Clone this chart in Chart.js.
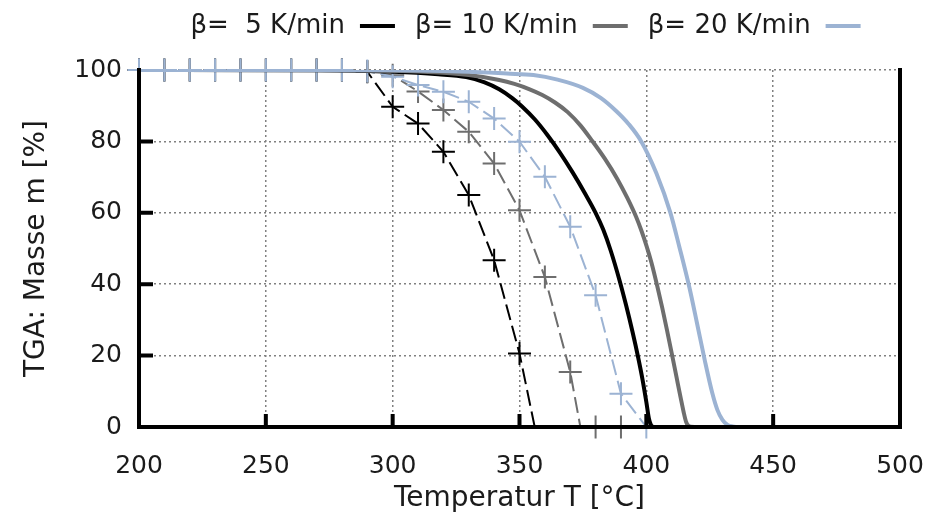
<!DOCTYPE html>
<html>
<head>
<meta charset="utf-8">
<script src="https://cdn.jsdelivr.net/npm/chart.js@4.4.1/dist/chart.umd.min.js"></script>
<style>
html, body { margin: 0; padding: 0; background: #fff; }
#wrap { width: 932px; height: 520px; }
</style>
</head>
<body>
<div id="wrap"><canvas id="chart"></canvas></div>
<script>
// Heizraten und Farben
const rates = ["β=  5 K/min", "β= 10 K/min", "β= 20 K/min"];
const colors = ["#000000", "#6e6e6e", "#9cb3d3"];

// Achsen
const xTicks = [200, 250, 300, 350, 400, 450, 500];
const yTicks = [0, 20, 40, 60, 80, 100];

// Simulation (durchgezogene Linien)
const simT5  = [200, 270, 300, 318, 329, 336, 342, 347, 351, 356, 361, 366, 371, 376, 380, 383, 386, 389.5, 392, 394.5, 396.8, 398.5, 400, 401, 401.8, 403, 500];
const simM5  = [100, 99.9, 99.5, 98.8, 98, 96.6, 94.6, 92.2, 89.8, 86.2, 81.8, 76.8, 71.25, 65.2, 60, 55.3, 49.3, 40.9, 34.15, 26.8, 19.4, 13.3, 7, 2.4, 0.6, 0, 0];
const simT10 = [200, 280, 310, 330, 342, 348, 354, 359, 364, 369, 374, 378.5, 383.5, 388.5, 392.5, 396, 398, 400, 402, 404.3, 406.3, 408.3, 410.2, 412, 413.5, 414.7, 415.6, 416.5, 417.5, 419, 500];
const simM10 = [100, 99.95, 99.6, 98.6, 97.2, 96.1, 94.6, 93, 90.9, 88.2, 84.5, 80.3, 75.3, 69.55, 64.15, 58.8, 55.1, 50.9, 46.1, 39.5, 33.3, 26.6, 20, 13.6, 8.3, 4.2, 1.6, 0.4, 0.05, 0, 0];
const simT20 = [200, 300, 330, 345, 355.5, 365, 375, 382, 388, 393, 398, 404, 409.5, 413, 417, 420, 423, 426, 428, 430, 432, 434, 437, 500];
const simM20 = [100, 99.9, 99.5, 99, 98.6, 97.3, 95, 92.2, 88.6, 84.9, 80, 71, 60, 50.5, 39, 29, 18.8, 9.5, 4.8, 2, 0.6, 0.15, 0, 0];

// Messung (gestrichelt, Kreuze alle 10 °C)
const expT5  = [200, 210, 220, 230, 240, 250, 260, 270, 280, 290, 300, 310, 320, 330, 340, 350, 356];
const expM5  = [100, 100, 100, 100, 100, 100, 100, 100, 100, 99.5, 89.7, 85, 77.1, 65, 46.7, 20.6, 0];
const expT10 = [200, 210, 220, 230, 240, 250, 260, 270, 280, 290, 300, 310, 320, 330, 340, 350, 360, 370, 374, 380, 390];
const expM10 = [100, 100, 100, 100, 100, 100, 100, 100, 100, 99.6, 98.5, 94, 88.8, 82.7, 73.8, 60.7, 42, 15.4, 0, 0, 0];
const expT20 = [200, 210, 220, 230, 240, 250, 260, 270, 280, 290, 300, 310, 320, 330, 340, 350, 360, 370, 380, 390, 400];
const expM20 = [100, 100, 100, 100, 100, 100, 100, 100, 100, 99.7, 98.1, 95.8, 93.9, 91.1, 86.4, 79.9, 70.1, 56.1, 36.9, 9.3, 0];

const pts = (xs, ys) => xs.map((x, i) => ({ x: x, y: ys[i] }));

Chart.defaults.font.family = "'DejaVu Sans', sans-serif";
Chart.defaults.color = "#1b1b1b";

function simSet(i, xs, ys, order) {
    return {
        label: rates[i],
        data: pts(xs, ys),
        showLine: true,
        borderColor: colors[i],
        borderWidth: 4,
        pointRadius: 0,
        cubicInterpolationMode: "monotone",
        order: order,
    };
}

function expSet(i, xs, ys, order) {
    return {
        label: rates[i] + " Messung",
        data: pts(xs, ys),
        showLine: true,
        borderColor: colors[i],
        borderWidth: 2,
        borderDash: [16, 6],
        tension: 0,
        pointStyle: "cross",
        pointRadius: (c) => (c.raw && c.raw.x % 10 === 0 ? 11.5 : 0),
        pointBorderWidth: 2,
        pointBorderColor: colors[i],
        clip: false,
        order: order,
    };
}

// Rahmen mit innen liegenden Teilstrichen
const frame = {
    id: "frame",
    afterDatasetsDraw(chart) {
        const { ctx, chartArea: a, scales: { x, y } } = chart;
        ctx.save();
        ctx.strokeStyle = "#000";
        ctx.lineWidth = 4;
        ctx.beginPath();
        ctx.moveTo(a.left, a.top - 2);
        ctx.lineTo(a.left, a.bottom);
        ctx.lineTo(a.right, a.bottom);
        ctx.lineTo(a.right, a.top - 2);
        ctx.stroke();
        ctx.beginPath();
        yTicks.slice(1, -1).forEach((v) => {
            const p = y.getPixelForValue(v);
            ctx.moveTo(a.left, p);
            ctx.lineTo(a.left + 14, p);
        });
        xTicks.slice(1, -1).forEach((v) => {
            const p = x.getPixelForValue(v);
            ctx.moveTo(p, a.bottom);
            ctx.lineTo(p, a.bottom - 13);
        });
        ctx.stroke();
        ctx.restore();
    },
};

// Legende oben: Text, dann Linienmuster
const legendTop = {
    id: "legendTop",
    afterDraw(chart) {
        const { ctx, chartArea: a } = chart;
        ctx.save();
        ctx.font = "26px 'DejaVu Sans'";
        ctx.textBaseline = "middle";
        ctx.textAlign = "left";
        const gap = 15, sample = 35, between = 20;
        const widths = rates.map((r) => ctx.measureText(r).width);
        const total = widths.reduce((s, w) => s + w + gap + sample, 0) + between * (rates.length - 1);
        let xPos = (a.left + a.right) / 2 - total / 2 + 6;
        const yPos = 26;
        rates.forEach((r, i) => {
            ctx.fillStyle = "#1b1b1b";
            ctx.fillText(r, xPos, yPos);
            xPos += widths[i] + gap;
            ctx.strokeStyle = colors[i];
            ctx.lineWidth = 4;
            ctx.beginPath();
            ctx.moveTo(xPos, yPos);
            ctx.lineTo(xPos + sample, yPos);
            ctx.stroke();
            xPos += sample + between;
        });
        ctx.restore();
    },
};

const ctx = document.getElementById("chart");

const config = {
    type: "scatter",
    data: {
        datasets: [
            simSet(2, simT20, simM20, 0),
            simSet(1, simT10, simM10, 1),
            simSet(0, simT5, simM5, 2),
            expSet(2, expT20, expM20, 3),
            expSet(1, expT10, expM10, 4),
            expSet(0, expT5, expM5, 5),
        ],
    },
    options: {
        responsive: true,
        maintainAspectRatio: false,
        animation: false,
        layout: { padding: { top: 70, right: 32, left: 0, bottom: 0 } },
        plugins: {
            legend: { display: false },
            tooltip: { enabled: false },
        },
        scales: {
            x: {
                type: "linear",
                min: 200,
                max: 500,
                afterBuildTicks: (s) => { s.ticks = xTicks.map((v) => ({ value: v })); },
                afterFit: (s) => { s.height = 93; },
                ticks: { font: { size: 25 }, padding: 6, maxRotation: 0 },
                grid: {
                    drawTicks: true,
                    tickLength: 18,
                    tickColor: "transparent",
                    lineWidth: 1.5,
                    color: (c) => (c.tick && (c.tick.value === 200 || c.tick.value === 500) ? "transparent" : "#808080"),
                },
                border: { display: false, dash: [2, 3] },
                title: {
                    display: true,
                    text: "Temperatur T [°C]",
                    font: { size: 28 },
                    padding: { top: 0, bottom: 4 },
                },
            },
            y: {
                min: 0,
                max: 100,
                afterBuildTicks: (s) => { s.ticks = yTicks.map((v) => ({ value: v })); },
                afterFit: (s) => { s.width = 139; },
                ticks: { font: { size: 25 }, padding: 17 },
                grid: {
                    drawTicks: false,
                    lineWidth: 1.5,
                    color: (c) => (c.tick && c.tick.value === 0 ? "transparent" : "#808080"),
                },
                border: { display: false, dash: [2, 3] },
                title: {
                    display: true,
                    text: "TGA: Masse m [%]",
                    font: { size: 28 },
                    padding: { top: 20, bottom: 0 },
                },
            },
        },
    },
    plugins: [frame, legendTop],
};

var chart = new Chart(ctx, config);
</script>
</body>
</html>
